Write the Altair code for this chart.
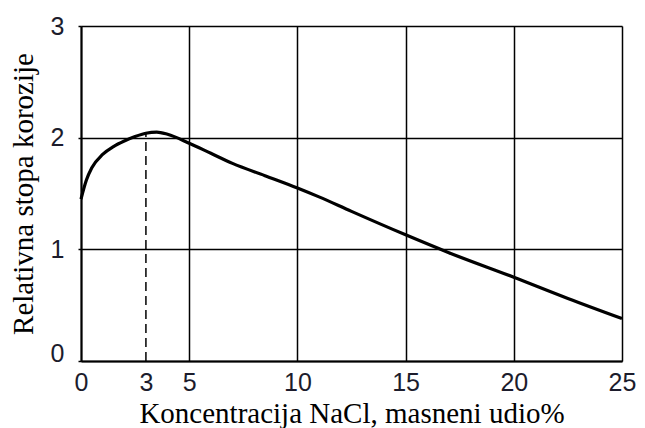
import altair as alt
import pandas as pd

# Curve
conc = [0, 0.25, 0.5, 1, 1.5, 2, 2.5, 3, 3.5, 4, 5, 6, 7, 8.5, 10, 11, 12.5, 15, 17, 20, 22.5, 25]
rate = [1.45, 1.62, 1.73, 1.85, 1.92, 1.97, 2.01, 2.04, 2.05, 2.03, 1.95, 1.86, 1.77, 1.66, 1.55, 1.47, 1.34, 1.13, 0.97, 0.75, 0.56, 0.38]

x_ticks = [0, 3, 5, 10, 15, 20, 25]
y_ticks = [0, 1, 2, 3]
peak_x = [3]
peak_y = [2.04]

curve = pd.DataFrame({"c": conc, "r": rate})
peak = pd.DataFrame({"c": peak_x, "r0": [0], "r": peak_y})

label_color = "#1c1c2c"

x_scale = alt.Scale(domain=[0, 25], nice=False, zero=False)
y_scale = alt.Scale(domain=[0, 3], nice=False)

x_axis = alt.Axis(
    values=x_ticks, title="Koncentracija NaCl, masneni udio%", format="d",
    grid=True, gridColor="black", gridWidth=1.5,
    gridOpacity={"condition": {"test": "datum.value === 3", "value": 0}, "value": 1},
    domain=True, domainColor="black", domainWidth=2,
    ticks=False, labelPadding=9, labelFontSize=25, labelFont="Liberation Sans",
    labelColor=label_color, titleFont="Liberation Serif", titleFontSize=29,
    titleFontWeight="normal", titleColor="black", titlePadding=4,
    labelFlush=False,
)
y_axis = alt.Axis(
    values=y_ticks, title="Relativna stopa korozije", format="d",
    grid=True, gridColor="black", gridWidth=1.5, gridOpacity=1,
    domain=True, domainColor="black", domainWidth=2,
    ticks=True, tickSize=3, tickColor="black", tickWidth=1.5,
    labelPadding=14, labelFontSize=25, labelFont="Liberation Sans",
    labelOffset={"condition": {"test": "datum.value === 0", "value": -8}, "value": 0},
    labelColor=label_color, titleFont="Liberation Serif", titleFontSize=29,
    titleFontWeight="normal", titleColor="black", titlePadding=12,
    labelFlush=False,
)

line = alt.Chart(curve).mark_line(color="black", strokeWidth=3.2, interpolate="monotone").encode(
    x=alt.X("c:Q", scale=x_scale, axis=x_axis),
    y=alt.Y("r:Q", scale=y_scale, axis=y_axis),
)

dash = alt.Chart(peak).mark_rule(color="black", strokeWidth=1.5, strokeDash=[9, 5]).encode(
    x="c:Q", y="r0:Q", y2="r:Q",
)

chart = alt.layer(dash, line).properties(
    width=541, height=335,
    autosize=alt.AutoSizeParams(type="none"),
    padding={"left": 73, "top": 18, "right": 15, "bottom": 70},
).configure_view(stroke="black", strokeWidth=2).configure(background="white")

chart.save("out.html", embed_options={"renderer": "svg", "actions": False})
